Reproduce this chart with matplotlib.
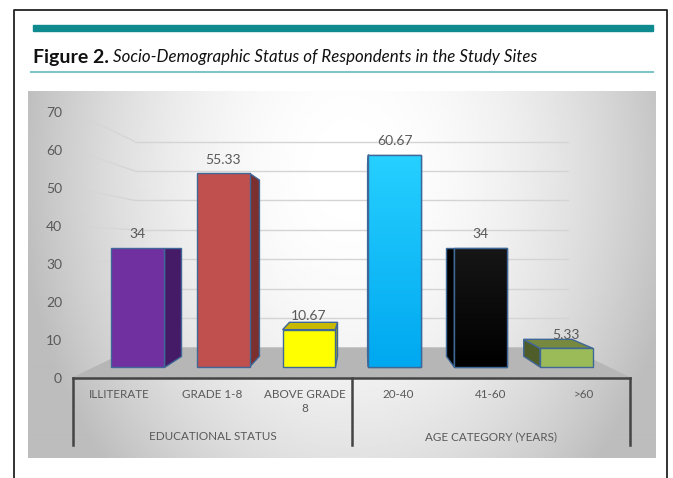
import numpy as np
import matplotlib.pyplot as plt
from matplotlib.patches import Polygon, Rectangle
from matplotlib.collections import LineCollection
from matplotlib.colors import LinearSegmentedColormap

plt.rcParams['font.family'] = ['Lato', 'DejaVu Sans']

# data
categories = ["ILLITERATE", "GRADE 1-8", "ABOVE GRADE\n8", "20-40", "41-60", ">60"]
values = [34, 55.33, 10.67, 60.67, 34, 5.33]
value_labels = ["34", "55.33", "10.67", "60.67", "34", "5.33"]
groups = ["EDUCATIONAL STATUS", "AGE CATEGORY (YEARS)"]
y_ticks = [0, 10, 20, 30, 40, 50, 60, 70]

front_colors = ["#7030a0", "#c0504d", "#ffff00", "#14bcff", "#0a0a0a", "#9bbb59"]
side_colors = ["#451a66", "#7b2f2e", "#a8a800", "#0a8fd0", "#000000", "#4f5d2b"]
top_colors = ["#5a2785", "#9c3f3c", "#c8b900", "#26d0ff", "#101010", "#76893f"]
edge_color = "#3f6797"
text_color = "#595959"

W, H = 673, 478
fig = plt.figure(figsize=(W / 100, H / 100), dpi=100, facecolor="white")

# page layer, in pixels
bg = fig.add_axes([0, 0, 1, 1])
bg.set_xlim(0, W)
bg.set_ylim(H, 0)
bg.axis("off")

# outer frame and heading
bg.plot([14, 14, 667, 667], [H, 9.5, 9.5, H], color="#222222", lw=1.3)
bg.add_patch(Rectangle((33, 25), 620, 6, color="#0f8a8f"))
bg.plot([31, 653], [71.5, 71.5], color="#7fc4c6", lw=1.5)
bg.text(33, 57, "Figure 2.", fontsize=14, fontweight="bold", color="#111111", va="center")
bg.text(113, 57, "Socio-Demographic Status of Respondents in the Study Sites",
        fontsize=12.2, fontstyle="italic", color="#111111", va="center")

# chart panel background
xx, yy = np.meshgrid(np.linspace(28, 656, 314), np.linspace(91, 458, 183))
r = np.sqrt(((xx - 350) / 320) ** 2 + ((yy - 170) / 420) ** 2)
shade = np.clip(1.0 - 0.24 * r ** 2, 0.74, 1)
bg.imshow(shade, extent=(28, 656, 458, 91), cmap="gray", vmin=0, vmax=1, aspect="auto", zorder=0)
bg.set_xlim(0, W)
bg.set_ylim(H, 0)

# floor
bg.add_patch(Polygon([(73, 378), (135, 348), (568, 348), (630, 378)], color="#b6b6b6", zorder=1))

# back wall gridlines and the fading ones on the side wall
for t in y_ticks[1:]:
    yb = 347.7 - 2.945 * t
    yf = 378 - 3.8 * t
    bg.plot([135, 568], [yb, yb], color="#d4d4d4", lw=1, zorder=1)
    xs = np.linspace(135, 73, 16)
    ys = np.linspace(yb, yf, 16)
    segs = [[(xs[i], ys[i]), (xs[i + 1], ys[i + 1])] for i in range(15)]
    alphas = np.linspace(1, 0, 15)
    bg.add_collection(LineCollection(segs, colors=[(0.83, 0.83, 0.83, a) for a in alphas], lw=1, zorder=1))

# category axis with group dividers
bg.plot([73, 630], [378, 378], color="#444444", lw=1.8, zorder=2)
for x in [73, 352, 630]:
    bg.plot([x, x], [378, 445], color="#444444", lw=1.8, zorder=2)
slot = (630 - 73) / len(categories)
for i, c in enumerate(categories):
    bg.text(73 + slot * (i + 0.5), 389, c, ha="center", va="top", fontsize=8.4,
            color=text_color, linespacing=1.35)
bg.text(212.5, 437, groups[0], ha="center", va="center", fontsize=8.4, color=text_color)
bg.text(491, 437, groups[1], ha="center", va="center", fontsize=8.4, color=text_color)

# value axis labels
ay = fig.add_axes([62 / W, (H - 378) / H, 5 / W, 266 / H])
ay.patch.set_alpha(0)
ay.set_ylim(0, 70)
ay.set_yticks(y_ticks)
ay.tick_params(axis="y", length=0, pad=0, labelsize=10, labelcolor=text_color)
ay.set_xticks([])
for s in ay.spines.values():
    s.set_visible(False)

# bars: x in category units, y in values
ax = fig.add_axes([0, 0, 1, 1])
ax.patch.set_alpha(0)
step, x0, y0, scale = 85.8, 137.4, 367, 3.5
ax.set_xlim(-x0 / step, (W - x0) / step)
ax.set_ylim((y0 - H) / scale, y0 / scale)
ax.axis("off")

xpos = np.arange(len(values))
width = 0.615
vx, vy, depth = (359 - x0) / step, (y0 - 248) / scale, 0.09


def back(x, y):
    return x + (vx - x) * depth, y + (vy - y) * depth


bars = ax.bar(xpos, values, width=width, color=front_colors, edgecolor=edge_color, linewidth=1, zorder=3)
for x, v, sc, tc in zip(xpos, values, side_colors, top_colors):
    l, r_ = x - width / 2, x + width / 2
    e = r_ if r_ < vx else l
    ax.add_patch(Polygon([(e, 0), (e, v), back(e, v), back(e, 0)], facecolor=sc,
                         edgecolor=edge_color, lw=1, zorder=2))
    if v < vy:
        ax.add_patch(Polygon([(l, v), (r_, v), back(r_, v), back(l, v)], facecolor=tc,
                             edgecolor=edge_color, lw=1, zorder=2))

# gradient fill on the blue and black fronts
for i, cols in {3: ("#00a8f0", "#26d0ff"), 4: ("#000000", "#161616")}.items():
    cmap = LinearSegmentedColormap.from_list("g", cols)
    b = bars[i]
    im = ax.imshow(np.linspace(0, 1, 64).reshape(-1, 1), cmap=cmap, origin="lower", aspect="auto",
                   extent=(b.get_x(), b.get_x() + width, 0, values[i]), zorder=3.1)
    im.set_clip_path(b)
    ax.add_patch(Rectangle((b.get_x(), 0), width, values[i], fill=False, edgecolor=edge_color, lw=1, zorder=3.2))
ax.set_xlim(-x0 / step, (W - x0) / step)
ax.set_ylim((y0 - H) / scale, y0 / scale)

for x, v, s in zip(xpos, values, value_labels):
    ax.annotate(s, (x, v), xytext=(0, 9.8), textcoords="offset points", ha="center", va="center",
                fontsize=10, color=text_color, zorder=5)

fig.savefig("out.png", dpi=100)
